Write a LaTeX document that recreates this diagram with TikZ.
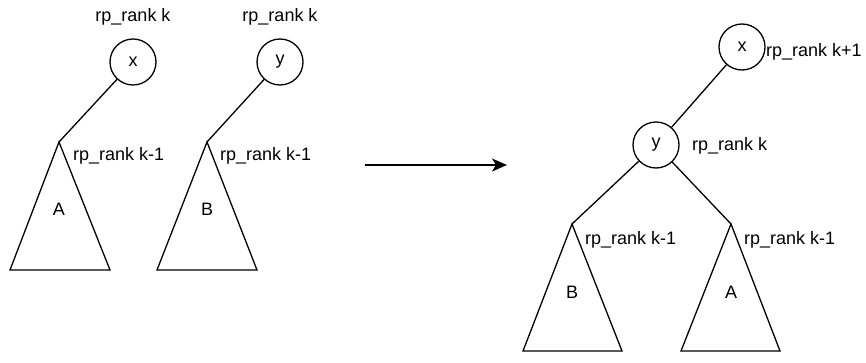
\documentclass[tikz,border=0pt]{standalone}
\usepackage{fontspec}
\setmainfont{Liberation Sans}
\usetikzlibrary{arrows.meta}
\begin{document}
\begin{tikzpicture}[x=1pt,y=-1pt,
  every node/.style={font=\fontsize{18}{21}\selectfont},
  treenode/.style={draw,circle,minimum size=46pt,inner sep=0pt,line width=1.3pt},
  lbl/.style={inner sep=0pt},
  edge/.style={line width=1.3pt},
  subtree/.style={line width=1.3pt},
  arr/.style={line width=1.3pt,-{Stealth[length=15pt,width=13pt,inset=4pt]}}]
\useasboundingbox (0,0) rectangle (866,363);
% left: x with A
\node[treenode] (x1) at (133,62) {x};
\node[lbl] (lx1) at (133,16.5) {rp\_rank k};
\coordinate (a1) at (59,142);
\draw[subtree] (a1) -- (10,270) -- (110,270) -- cycle;
\node[lbl] (A1) at (59,209) {A};
\node[lbl,anchor=west] (la1) at (73,156) {rp\_rank k-1};
\draw[edge] (x1) -- (a1);
% left: y with B
\node[treenode] (y1) at (280,62) {y};
\node[lbl] (ly1) at (280,16.5) {rp\_rank k};
\coordinate (b1) at (207,142);
\draw[subtree] (b1) -- (157,270) -- (257,270) -- cycle;
\node[lbl] (B1) at (207,209) {B};
\node[lbl,anchor=west] (lb1) at (220,156) {rp\_rank k-1};
\draw[edge] (y1) -- (b1);
% arrow
\coordinate (s) at (365,165);
\coordinate (t) at (507,165);
\draw[arr] (s) -- (t);
% right
\node[treenode] (x2) at (742,47) {x};
\node[lbl,anchor=west] (lx2) at (766,52) {rp\_rank k+1};
\node[treenode] (y2) at (656,145) {y};
\node[lbl,anchor=west] (ly2) at (692,146) {rp\_rank k};
\draw[edge] (x2) -- (y2);
\coordinate (b2) at (572,224);
\draw[subtree] (b2) -- (523,351) -- (622,351) -- cycle;
\node[lbl] (B2) at (572,292) {B};
\node[lbl,anchor=west] (lb2) at (585,240) {rp\_rank k-1};
\coordinate (a2) at (731,224);
\draw[subtree] (a2) -- (681,351) -- (780,351) -- cycle;
\node[lbl] (A2) at (731,292) {A};
\node[lbl,anchor=west] (la2) at (744,240) {rp\_rank k-1};
\draw[edge] (y2) -- (b2);
\draw[edge] (y2) -- (a2);
\end{tikzpicture}
\end{document}
